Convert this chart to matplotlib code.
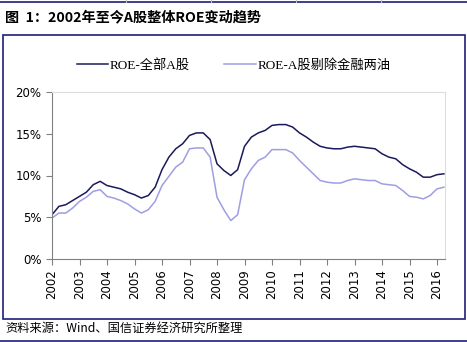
# ROE trend chart, 2002 - 2016

import matplotlib.pyplot as plt
from matplotlib.lines import Line2D
from matplotlib.patches import Rectangle
from matplotlib.ticker import FuncFormatter

plt.rcParams['font.family'] = ['DejaVu Sans', 'Noto Sans CJK SC']

# data (quarterly, 2002Q1 .. 2016Q2)
start_year = 2002
roe_all = [5.3, 6.3, 6.5, 7.0, 7.5, 8.0, 8.9, 9.3, 8.8, 8.6, 8.4, 8.0, 7.7, 7.3,
           7.6, 8.6, 10.7, 12.2, 13.2, 13.8, 14.8, 15.1, 15.1, 14.3, 11.4, 10.6,
           10.0, 10.7, 13.5, 14.6, 15.1, 15.4, 16.0, 16.1, 16.1, 15.8, 15.1, 14.6,
           14.0, 13.5, 13.3, 13.2, 13.2, 13.4, 13.5, 13.4, 13.3, 13.2, 12.6, 12.2,
           12.0, 11.3, 10.8, 10.4, 9.8, 9.8, 10.1, 10.2]
roe_ex = [4.9, 5.5, 5.5, 6.1, 6.9, 7.4, 8.1, 8.3, 7.5, 7.3, 7.0, 6.6, 6.0, 5.5,
          5.9, 6.9, 8.8, 9.9, 11.0, 11.6, 13.2, 13.3, 13.3, 12.2, 7.4, 5.9,
          4.6, 5.3, 9.5, 10.8, 11.8, 12.2, 13.1, 13.1, 13.1, 12.7, 11.8, 11.0,
          10.2, 9.4, 9.2, 9.1, 9.1, 9.4, 9.6, 9.5, 9.4, 9.4, 9.0, 8.9,
          8.8, 8.2, 7.5, 7.4, 7.2, 7.6, 8.4, 8.6]
years = list(range(2002, 2017))
x = [start_year + i / 4 for i in range(len(roe_all))]

navy = "#1F1F78"
fig = plt.figure(figsize=(4.67, 3.42), dpi=100)

# page decoration: rules, frame, title, source
fig.add_artist(Line2D([0, 1], [1 - 1.5 / 342] * 2, color=navy, lw=1.2))
fig.add_artist(Line2D([0, 1], [1 - 340.5 / 342] * 2, color=navy, lw=1.2))
for px in [126, 211, 296, 381]:
    fig.add_artist(Line2D([px / 467] * 2, [1 - 1.5 / 342, 1], color="#C0C0C0", lw=0.8))
fig.add_artist(Rectangle((3 / 467, 1 - 319 / 342), 462 / 467, 284 / 342,
                         fill=False, edgecolor=navy, lw=1.2))
fig.text(5 / 467, 1 - 17 / 342, "图  1：2002年至今A股整体ROE变动趋势",
         family=['Noto Sans CJK SC'], fontsize=10.2, fontweight="bold", va="center")
fig.text(5 / 467, 1 - 328 / 342, "资料来源：Wind、国信证券经济研究所整理",
         family=['Noto Sans CJK SC'], fontsize=8.8, va="center")

ax = fig.add_axes([52 / 467, 1 - 259 / 342, 393 / 467, 167 / 342])
ax.plot(x, roe_all, color="#1A1A5A", lw=1.1, label="ROE-全部A股")
ax.plot(x, roe_ex, color="#9E9EE2", lw=1.1, label="ROE-A股剔除金融两油")

ax.set_xlim(2002, 2016.29)
ax.set_ylim(0, 20)
ax.set_xticks(years)
ax.set_xticklabels([str(y) for y in years], rotation=90, fontsize=8.5)
ax.set_yticks([0, 5, 10, 15, 20])
ax.yaxis.set_major_formatter(FuncFormatter(lambda v, p: f"{v:.0f}%"))
ax.tick_params(axis="y", labelsize=8.5)
ax.tick_params(color="#808080", length=4, width=0.8)

for s in ["left", "bottom"]:
    ax.spines[s].set_color("#808080")
for s in ["top", "right"]:
    ax.spines[s].set_color("#DDDDDD")

fig.legend(loc="center", bbox_to_anchor=(0.5, 1 - 65 / 342), ncol=2, frameon=False,
           prop={'family': ['Liberation Serif', 'Noto Sans CJK SC'], 'size': 9.5},
           handlelength=2.4, handletextpad=0.1, columnspacing=2.6)

plt.savefig("out.png", dpi=100)
